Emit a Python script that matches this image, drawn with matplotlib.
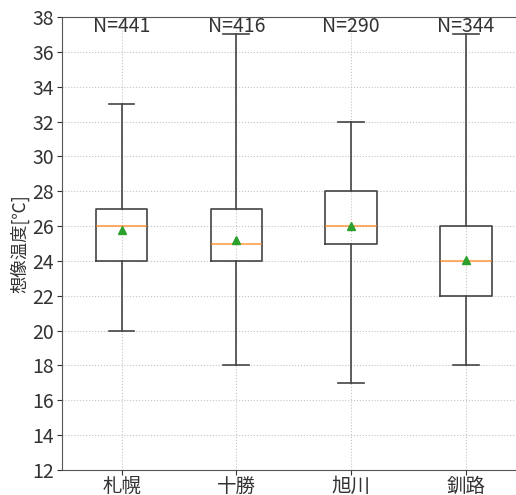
import matplotlib
matplotlib.use("Agg")
import matplotlib.pyplot as plt

plt.rcParams['font.family'] = ['Noto Sans CJK JP', 'DejaVu Sans']

# per-area summary of imagined temperature answers
areas = ["札幌", "十勝", "旭川", "釧路"]
counts = [441, 416, 290, 344]
whisLow = [20, 18, 17, 18]
q1 = [24, 24, 25, 22]
medians = [26, 25, 26, 24]
q3 = [27, 27, 28, 26]
whisHigh = [33, 37, 32, 37]
means = [25.8, 25.2, 26.0, 24.05]


def buildStats():
    stats = []
    for i in range(len(areas)):
        stats.append({
            "label": areas[i],
            "whislo": whisLow[i],
            "q1": q1[i],
            "med": medians[i],
            "q3": q3[i],
            "whishi": whisHigh[i],
            "mean": means[i],
            "fliers": [],
        })
    return stats


fig = plt.figure(figsize=(5.16, 4.95), dpi=100)
ax = fig.add_axes([0.12, 0.0505, 0.885, 0.915])
ax.bxp(buildStats(), showmeans=True,
       boxprops=dict(color="#444444", linewidth=1.2),
       whiskerprops=dict(color="#444444", linewidth=1.2),
       capprops=dict(color="#444444", linewidth=1.2),
       medianprops=dict(color="#ff7f0e", alpha=0.6, linewidth=1.5),
       meanprops=dict(marker="^", markerfacecolor="#2ca02c", markeredgecolor="#2ca02c", markersize=6))

for i, n in enumerate(counts):
    ax.text(i + 1, 37.45, "N=" + str(n), ha="center", va="center", fontsize=14, color="#333333")

ax.set_ylim(12, 38)
ax.set_yticks(range(12, 39, 2))
ax.set_xlim(0.48, 4.46)
ax.grid(True, linestyle=":", color="#c4c4c4")
ax.set_axisbelow(True)
ax.tick_params(labelsize=14, colors="#333333")
ax.tick_params(axis="x", pad=1)
ax.tick_params(axis="y", pad=2)
ax.set_ylabel("想像温度[℃]", fontsize=12.5, color="#333333", labelpad=2)
for s in ax.spines.values():
    s.set_color("#555555")

plt.savefig("out.png")
